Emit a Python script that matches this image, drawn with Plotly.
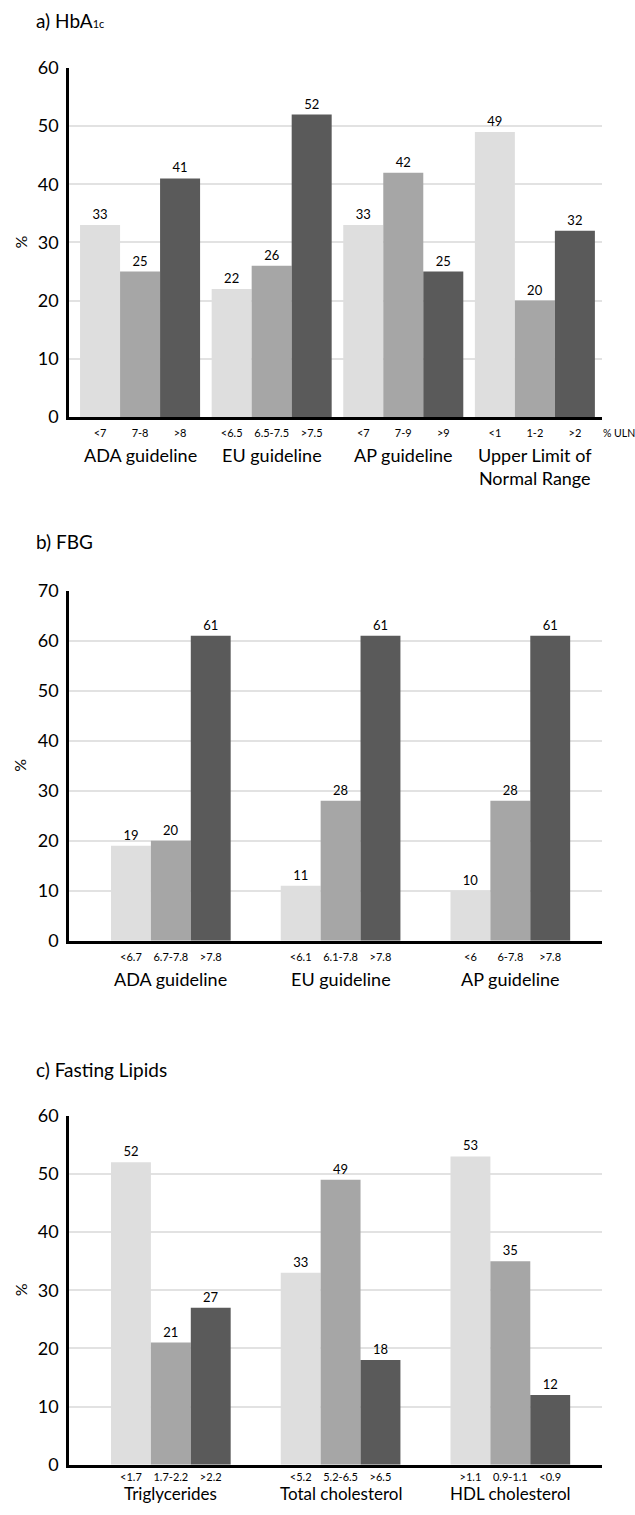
import plotly.graph_objects as go

# ---------------- data ----------------
a_groups = ["ADA guideline", "EU guideline", "AP guideline", "Upper Limit of<br>Normal Range"]
a_sub = [["<7", "7-8", ">8"], ["<6.5", "6.5-7.5", ">7.5"], ["<7", "7-9", ">9"], ["<1", "1-2", ">2"]]
a_low = [33, 22, 33, 49]
a_mid = [25, 26, 42, 20]
a_high = [41, 52, 25, 32]

b_groups = ["ADA guideline", "EU guideline", "AP guideline"]
b_sub = [["<6.7", "6.7-7.8", ">7.8"], ["<6.1", "6.1-7.8", ">7.8"], ["<6", "6-7.8", ">7.8"]]
b_low = [19, 11, 10]
b_mid = [20, 28, 28]
b_high = [61, 61, 61]

c_groups = ["Triglycerides", "Total cholesterol", "HDL cholesterol"]
c_sub = [["<1.7", "1.7-2.2", ">2.2"], ["<5.2", "5.2-6.5", ">6.5"], [">1.1", "0.9-1.1", "<0.9"]]
c_low = [52, 33, 53]
c_mid = [21, 49, 35]
c_high = [27, 18, 12]

COLORS = ["#dedede", "#a6a6a6", "#5a5a5a"]
FONT = "Lato"
W, H = 635, 1515

fig = go.Figure()

def Y(ref):
    # map a target picture row to a figure row (empirical correction)
    return (ref - 12) / 0.9857

def py(ref):
    return 1 - Y(ref) / H

def pxx(px):
    return px / W

panels = [
    # (groups, subs, series, axis suffix, top px, bottom px, ymax, bar width, xrange, standoff)
    (a_groups, a_sub, [a_low, a_mid, a_high], "", 68, 417, 60, 0.304, [-0.54, 3.51], 4),
    (b_groups, b_sub, [b_low, b_mid, b_high], "2", 591, 941, 70, 0.235, [-0.6, 2.54], 4),
    (c_groups, c_sub, [c_low, c_mid, c_high], "3", 1116, 1465, 60, 0.235, [-0.6, 2.54], 0),
]

annotations = []
for i, (groups, subs, series, sfx, top, bot, ymax, w, xr, so) in enumerate(panels):
    xs = list(range(len(groups)))
    for k, vals in enumerate(series):
        fig.add_trace(go.Bar(
            x=xs, y=vals, width=w, offset=(k - 1.5) * w,
            marker=dict(color=COLORS[k], line=dict(width=0)),
            text=[str(v) for v in vals], textposition="outside",
            textfont=dict(family=FONT, size=13, color="black"),
            cliponaxis=False, constraintext="none",
            xaxis="x" + sfx, yaxis="y" + sfx, showlegend=False,
        ))
    tickvals, ticktext = [], []
    for g, labs in zip(xs, subs):
        for k, lab in enumerate(labs):
            tickvals.append(g + (k - 1) * w)
            ticktext.append(lab)
    xa = dict(domain=[pxx(69), pxx(602)], range=xr, anchor="y" + sfx,
              tickvals=tickvals, ticktext=ticktext, ticks="",
              tickfont=dict(family=FONT, size=11, color="black"),
              showline=True, linecolor="black", linewidth=3,
              showgrid=False, zeroline=False, fixedrange=True,
              ticklabelstandoff=so)
    ya = dict(domain=[py(bot), py(top)], range=[0, ymax], dtick=10, anchor="x" + sfx,
              ticks="", tickfont=dict(family=FONT, size=18, color="black"),
              showline=True, linecolor="black", linewidth=2.5,
              showgrid=True, gridcolor="#e2e2e2", gridwidth=1.5,
              zeroline=False, ticklabelstandoff=4, fixedrange=True)
    fig.update_layout(**{"xaxis" + sfx: xa, "yaxis" + sfx: ya})
    # group labels
    last = i == len(panels) - 1
    for g, name in zip(xs, groups):
        if last:
            yy, anchor, fs = 0.0, "bottom", 17
        else:
            yy, anchor, fs = py(bot + 26), "top", 18
        annotations.append(dict(
            x=g, xref="x" + sfx, y=yy, yref="paper",
            text=name, showarrow=False, xanchor="center", yanchor=anchor,
            font=dict(family=FONT, size=fs, color="black"),
            align="center", borderpad=0,
        ))
    # y title
    annotations.append(dict(
        x=pxx(20), xref="paper", y=py((top + bot) / 2), yref="paper",
        text="%", textangle=-90, showarrow=False,
        font=dict(family=FONT, size=16, color="black"),
        xanchor="center", yanchor="middle",
    ))

titles = [("a) HbA<span style='font-size:11px'>1c</span>", 21),
          ("b) FBG", 542), ("c) Fasting Lipids", 1070)]
for t, ypx in titles:
    annotations.append(dict(
        x=pxx(34), xref="paper", y=py(ypx), yref="paper", text=t,
        showarrow=False, xanchor="left", yanchor="middle",
        font=dict(family=FONT, size=19, color="black"),
    ))

annotations.append(dict(
    x=pxx(601), xref="paper", y=py(433), yref="paper", text="% ULN",
    showarrow=False, xanchor="left", yanchor="middle",
    font=dict(family=FONT, size=10.5, color="black"),
))

fig.update_layout(
    width=W, height=H, margin=dict(l=0, r=0, t=0, b=0),
    paper_bgcolor="white", plot_bgcolor="white",
    barmode="overlay", annotations=annotations,
    font=dict(family=FONT, color="black"),
)

fig.write_html(
    "out.html",
    config={"displayModeBar": False},
    post_script="document.body.style.margin='0';document.body.style.padding='0';",
)
